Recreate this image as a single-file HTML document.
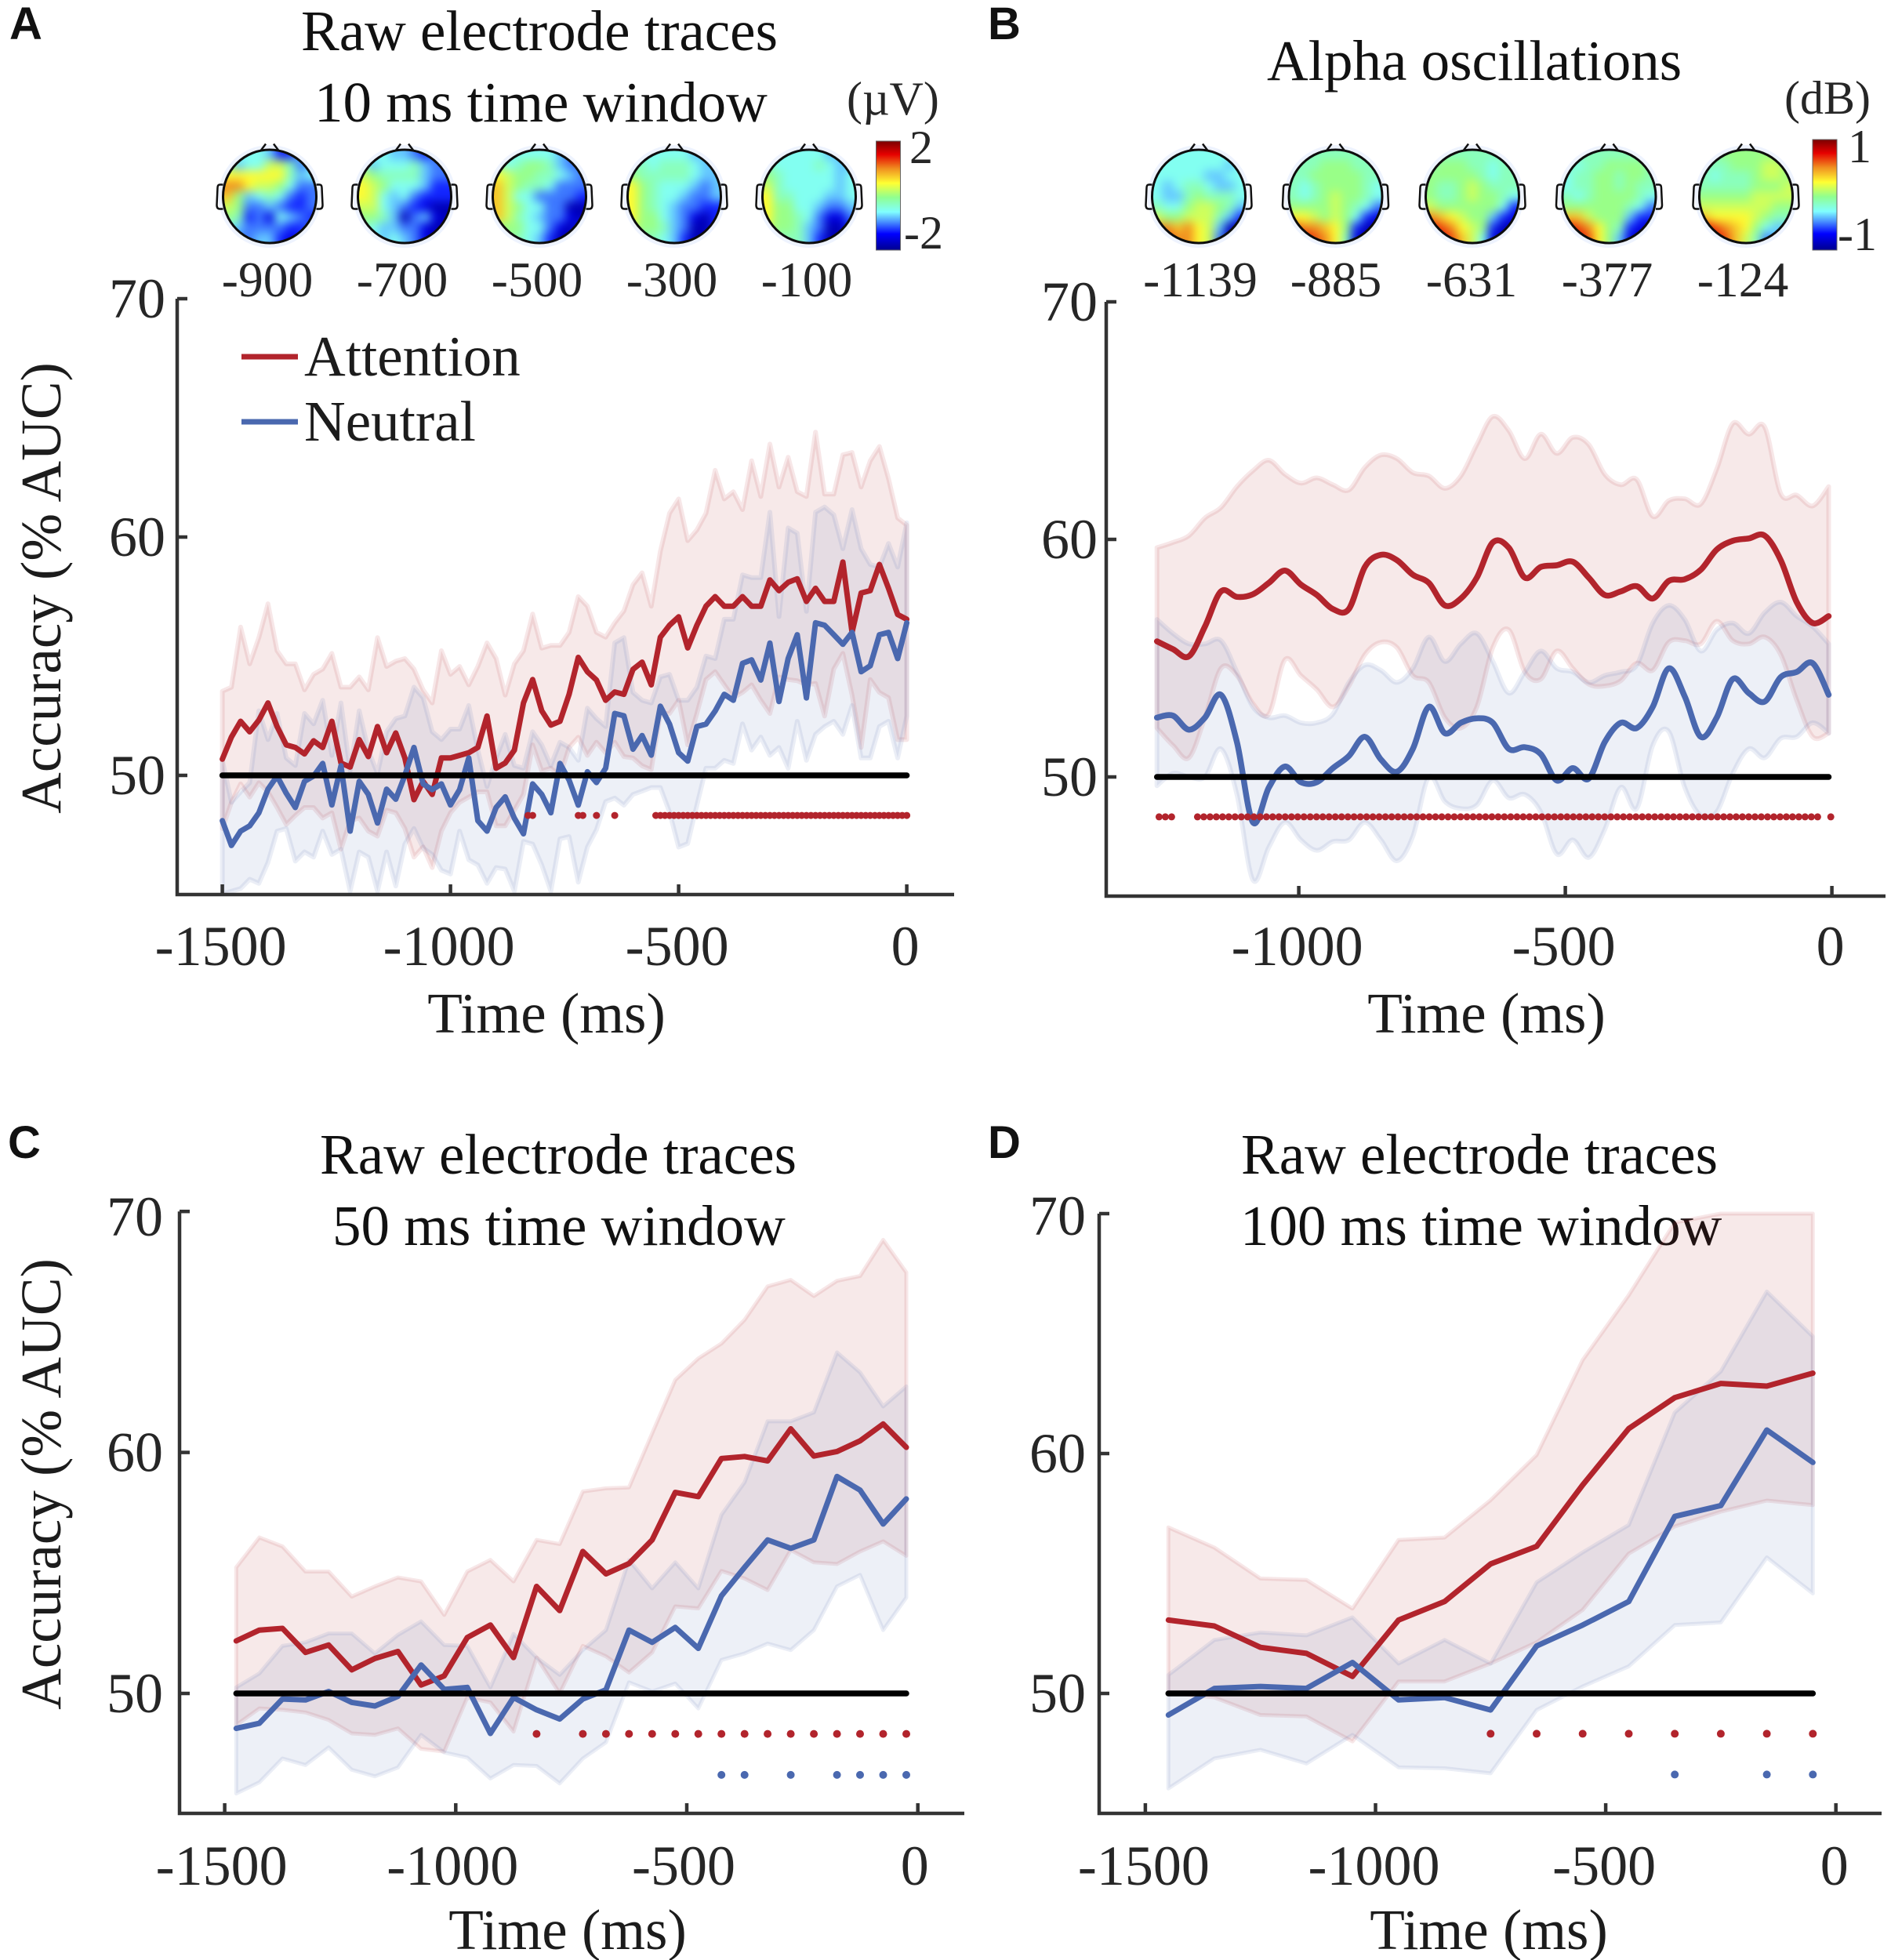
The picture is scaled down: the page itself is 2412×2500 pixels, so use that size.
<!DOCTYPE html>
<html lang="en">
<head>
<meta charset="utf-8">
<title>Decoding accuracy panels</title>
<style>
html,body{margin:0;padding:0;background:#fff}
svg{display:block}
text{font-family:"Liberation Serif","Times New Roman",serif;fill:#1c1c1c}
.letter{font-family:"Liberation Sans",Arial,sans-serif;font-weight:700;font-size:58px;fill:#111}
.title{font-size:73px;fill:#111}
.axt{font-size:73px;fill:#1c1c1c}
.tick{font-size:72px;fill:#262626}
.tl{font-size:63.5px;fill:#262626}
.unit{font-size:60px;fill:#262626}
</style>
</head>
<body>
<svg id="fig" xmlns="http://www.w3.org/2000/svg" width="2412" height="2500" viewBox="0 0 2412 2500">
<defs>
<linearGradient id="jetGrad" x1="0" y1="1" x2="0" y2="0">
<stop offset="0" stop-color="#00008f"/><stop offset=".148" stop-color="#0000ff"/><stop offset=".268" stop-color="#4f9cff"/><stop offset=".35" stop-color="#80ffff"/><stop offset=".483" stop-color="#90ff90"/><stop offset=".615" stop-color="#ffff33"/><stop offset=".746" stop-color="#f09020"/><stop offset=".878" stop-color="#e60000"/><stop offset="1" stop-color="#7a0000"/>
</linearGradient>
<filter id="topoBlur" filterUnits="objectBoundingBox" x="-0.2" y="-0.2" width="1.4" height="1.4" color-interpolation-filters="sRGB"><feGaussianBlur stdDeviation="6"/></filter>
</defs>

<text class="letter" x="12" y="50">A</text>
<text class="letter" x="1260" y="50">B</text>
<text class="letter" x="10" y="1477">C</text>
<text class="letter" x="1260" y="1477">D</text>

<text class="title" x="384" y="64">Raw electrode traces</text>
<text class="title" x="401" y="155">10 ms time window</text>
<text class="title" x="1616" y="102">Alpha oscillations</text>
<text class="title" x="408" y="1497">Raw electrode traces</text>
<text class="title" x="424" y="1588">50 ms time window</text>
<text class="title" x="1583" y="1497">Raw electrode traces</text>
<text class="title" x="1582" y="1588">100 ms time window</text>

<text class="unit" x="1080" y="146">(µV)</text>
<text class="unit" x="2276" y="145">(dB)</text>
<rect x="1117.5" y="180" width="31" height="139" fill="url(#jetGrad)" stroke="#666" stroke-width="1"/>
<rect x="2312" y="178" width="31" height="141" fill="url(#jetGrad)" stroke="#666" stroke-width="1"/>
<text class="unit" x="1160" y="208">2</text>
<text class="unit" x="1153" y="317">-2</text>
<text class="unit" x="2357" y="207">1</text>
<text class="unit" x="2344" y="319">-1</text>

<text class="axt" x="697" y="1317" text-anchor="middle">Time (ms)</text>
<text class="axt" x="1896" y="1317" text-anchor="middle">Time (ms)</text>
<text class="axt" x="724" y="2486" text-anchor="middle">Time (ms)</text>
<text class="axt" x="1899" y="2486" text-anchor="middle">Time (ms)</text>
<text class="axt" transform="translate(77,750) rotate(-90)" text-anchor="middle">Accuracy (% AUC)</text>
<text class="axt" transform="translate(77,1893) rotate(-90)" text-anchor="middle">Accuracy (% AUC)</text>

<g id="panels"></g>

<line x1="308" x2="380" y1="455" y2="455" stroke="#b2242c" stroke-width="7"/>
<text class="axt" x="388" y="479">Attention</text>
<line x1="308" x2="380" y1="538" y2="538" stroke="#4a68af" stroke-width="7"/>
<text class="axt" x="388" y="562">Neutral</text>
</svg>

<script>
/* ---------- Panel A (10 ms window) ---------- */
const timesA = [-1500,-1480,-1460,-1440,-1420,-1400,-1380,-1360,-1340,-1320,-1300,-1280,-1260,-1240,-1220,-1200,-1180,-1160,-1140,-1120,-1100,-1080,-1060,-1040,-1020,-1000,-980,-960,-940,-920,-900,-880,-860,-840,-820,-800,-780,-760,-740,-720,-700,-680,-660,-640,-620,-600,-580,-560,-540,-520,-500,-480,-460,-440,-420,-400,-380,-360,-340,-320,-300,-280,-260,-240,-220,-200,-180,-160,-140,-120,-100,-80,-60,-40,-20,0];
const attentionA = [50.68,51.61,52.27,51.83,52.32,53.04,52.05,51.28,51.17,50.9,51.45,51.17,52.27,50.52,50.35,51.5,50.79,52.05,50.95,51.78,50.73,48.98,49.75,49.2,50.73,50.73,50.84,50.95,51.17,52.49,50.3,50.52,51.06,53.04,54.02,52.71,52.11,52.27,53.4,54.95,54.35,54,53.15,53.5,53.4,54.45,54.75,53.8,55.8,56.3,56.65,55.35,56.3,57.1,57.5,57.1,57.1,57.5,57.1,57.1,58.2,57.75,58.1,58.25,57.3,57.85,57.3,57.3,58.95,56,57.65,57.75,58.85,57.85,56.75,56.55];
const neutralA = [48.1,47.06,47.66,47.88,48.43,49.42,49.97,49.25,48.65,49.75,49.97,50.5,48.76,50.4,47.66,49.75,49.2,48,49.42,49,50,51.17,49.64,49.4,49.64,48.76,49.4,50.73,48.1,47.66,48.65,49.1,48.2,47.55,49.64,49.2,48.43,50.5,49.8,48.75,50.15,49.7,50.3,52.6,52.5,51.1,51.67,50.85,52.9,52.15,50.95,50.6,52.05,52.15,52.7,53.4,53.15,54.7,54.85,54,55.55,53.1,54.9,55.9,53.25,56.4,56.3,55.9,55.5,56,54.35,54.6,55.9,56,54.9,56.4];
const attentionUpperA = [53.53,53.7,56.22,54.68,55.78,57.2,55.23,54.68,54.68,53.59,54.24,54.46,55.12,53.7,53.7,54.13,53.59,55.78,54.57,54.79,54.9,54.46,53.59,53.04,55.23,54.24,54.57,53.8,54.57,55.56,54.9,53.37,54.68,55.23,56.77,55.34,55.45,55.45,56,57.5,57.1,56,55.8,56.4,56.9,58,58.5,57.1,59.4,61,61.6,59.85,60.3,61,62.8,61.6,61.9,61.15,63.2,61.7,63.9,62.1,63.35,61.9,61.7,64.4,61.8,61.8,63.45,63.55,62.1,63.2,63.8,62.45,60.8,60.5];
const attentionLowerA = [47.77,48.87,49.64,49.09,49.69,49.31,48.65,47.94,48.32,48.65,48.65,48.21,48.43,46.9,48.1,48.21,47.66,47.45,48.54,48.43,47.77,46.57,47,46.13,47.66,48.43,48.87,49.09,49.31,49.31,47.88,47.88,48.54,49.2,51.28,50.19,50.3,49.97,51.17,51.6,50.84,51.39,50.95,51.39,50.79,50.73,50.4,50.24,52.6,52.6,53.15,51.28,52.6,54.02,54.35,53.8,53.26,53.48,53.8,53.15,52.6,54.13,54.02,53.97,53.8,53.86,52.49,54.46,55.12,53.37,51.17,54.02,53.48,53.26,51.5,51.5];
const neutralUpperA = [50.63,48.87,49.31,49.69,52.71,51.5,52.6,50.73,50.41,52.6,52.16,53.15,50.84,53.04,50.19,52.71,51.06,50.08,51.83,52.38,52.49,53.7,53.26,51.83,51.5,51.94,51.94,52.93,51.06,49.53,50.73,51.72,50.41,50.3,51.83,51.28,50.41,51.39,51.17,50.63,52.82,52.38,52.05,55.56,55.78,53.48,53.15,53.04,54.13,54.24,53.15,53.15,53.7,55.01,54.9,56.55,56.55,58.41,58.3,58.3,61.04,56.66,60.38,60.16,56.88,61.04,61.26,60.93,59.51,61.15,59.51,58.85,58.74,59.73,58.74,60.6];
const neutralLowerA = [45.03,45.14,45.25,45.64,45.47,46.35,47.66,47.77,46.4,46.79,46.57,47.66,46.68,46.9,45.14,46.79,46.57,45.14,46.79,45.36,47.12,47.77,46.95,46.68,46.02,45.86,47.66,46.46,46.24,45.47,46.13,46.07,45.14,47.23,47.12,46.24,45.14,47.34,47.43,45.52,46.99,47.72,48.9,49.05,48.75,49.2,49.34,49.49,49.49,48.46,46.99,47.14,48.75,50.3,50.3,50.63,50.5,52.16,51.06,51.61,50.84,51.17,50.3,52.27,50.63,51.72,52.05,52.27,51.72,52.93,50.73,50.73,52.05,52.27,50.73,52.49];
const sigAttentionA = [[-830,-820],[-720,-710],[-680,-680],[-640,-640],[-550,-520],[-510,-480],[-470,-400],[-390,-110],[-100,0]];

/* ---------- Panel B (alpha) ---------- */
const timesB = [-1266,-1236,-1206,-1176,-1146,-1116,-1086,-1056,-1026,-996,-966,-936,-906,-876,-846,-816,-786,-756,-726,-696,-666,-636,-606,-576,-546,-516,-486,-456,-426,-396,-366,-336,-306,-276,-246,-216,-186,-156,-126,-96,-66,-36,-6];
const attentionB = [55.71,55.38,55.08,56.33,57.81,57.58,57.69,58.17,58.69,58.1,57.66,57.07,57.07,58.84,59.35,59.13,58.51,58.17,57.22,57.51,58.39,59.87,59.65,58.39,58.84,58.91,59.06,58.39,57.66,57.81,58.03,57.51,58.25,58.32,58.72,59.57,59.94,60.04,60.16,59.13,57.36,56.48,56.77];
const neutralB = [52.5,52.58,51.99,52.5,53.46,51.47,48.09,49.56,50.44,49.78,49.78,50.37,50.88,51.69,50.74,50.22,51.18,52.95,51.84,52.28,52.47,52.28,51.18,51.25,50.96,49.85,50.37,49.93,51.47,52.28,52.06,52.95,54.57,53.39,51.69,52.5,54.12,53.53,53.17,54.2,54.42,54.79,53.46];
const attentionUpperB = [59.65,59.87,60.16,60.9,61.34,62.22,62.89,63.33,62.74,62.37,62.59,62.3,62.08,63.03,63.55,63.4,62.81,62.67,62.15,62.67,63.99,65.17,64.58,63.4,64.43,63.62,64.29,63.99,62.74,62.3,62.52,60.97,61.63,61.71,61.49,62.96,64.87,64.43,64.73,61.93,61.86,61.41,62.22];
const attentionLowerB = [52.06,51.33,50.81,52.5,54.57,54.27,53.09,52.65,54.93,54.27,53.68,52.95,53.83,55.15,55.67,55.45,54.27,53.98,52.5,52.06,52.95,55.45,56.19,54.42,54.12,55.3,54.57,53.9,53.83,54.05,54.79,54.49,55.67,55.74,55.6,56.55,55.74,55.6,55.89,55.15,53.24,51.69,51.84];
const neutralUpperB = [56.63,56.04,55.6,55.6,55.74,54.42,52.95,52.5,52.58,52.28,52.28,52.65,53.98,54.71,54.49,53.98,54.57,55.89,54.86,55.6,56.04,54.86,53.53,54.42,55.3,54.57,54.42,53.98,54.27,54.42,54.71,56.48,57.22,56.63,55.3,56.19,56.48,56.04,56.92,57.36,56.77,56.33,55.6];
const neutralLowerB = [49.63,50.15,50,50,51.18,49.26,45.66,47.05,48.09,47.35,46.91,47.28,47.35,48.09,47.35,46.47,47.5,50,48.97,48.67,48.82,49.85,49.12,49.26,48.53,46.76,47.35,46.61,47.79,49.56,48.67,51.33,51.91,49.56,48.38,48.53,50.15,51.18,50.81,51.62,51.69,52.28,51.84];
const sigAttentionB = [[-1262,-1238],[-1190,-21],[-2,-2]];

/* ---------- Panel C (50 ms window) ---------- */
const timesC = [-1475,-1425,-1375,-1325,-1275,-1225,-1175,-1125,-1075,-1025,-975,-925,-875,-825,-775,-725,-675,-625,-575,-525,-475,-425,-375,-325,-275,-225,-175,-125,-75,-25];
const attentionC = [52.18,52.63,52.7,51.7,52.01,50.98,51.45,51.74,50.35,50.73,52.32,52.84,51.49,54.44,53.44,55.89,54.96,55.39,56.37,58.34,58.17,59.75,59.83,59.65,60.98,59.85,60.04,60.48,61.18,60.21];
const neutralC = [48.55,48.76,49.77,49.73,50.08,49.63,49.48,49.88,51.18,50.17,50.25,48.34,49.83,49.32,48.94,49.77,50.15,52.63,52.12,52.74,51.87,54.05,55.23,56.37,56.02,56.37,59,58.44,57.03,58.07];
const attentionUpperC = [55.23,56.47,56.1,55.06,55.06,54.02,54.44,54.81,54.65,53.26,55.06,55.54,54.65,56.37,56.2,58.38,58.51,58.55,60.79,63.01,63.9,64.52,65.5,66.89,67.16,66.49,67.12,67.32,68.82,67.47];
const attentionLowerC = [48.69,49.38,49.32,49.21,48.9,48.34,48.28,48.55,47.7,47.59,49.83,49.63,48.42,51.49,50,51.97,51.54,50.87,51.7,53.61,53.53,55.08,54.77,54.29,55.95,55.44,55.37,55.89,56.31,55.71];
const neutralUpperC = [50.25,50.83,51.97,52.12,52.49,52.49,51.66,52.43,52.99,52.01,51.97,50.25,52.47,51.49,50.77,51.8,52.63,55.54,54.36,55.44,54.36,57.41,58.76,61.29,61.29,61.66,64.15,63.32,61.91,62.74];
const neutralLowerC = [45.85,46.31,47.3,47.03,47.76,46.83,46.56,46.93,48.28,47.55,47.34,46.47,47.03,46.99,46.27,47.3,47.97,50.46,50.08,50.41,49.38,51.39,51.66,52.07,51.8,52.63,54.44,54.92,52.63,53.98];
const sigAttentionC = [[-825,-825],[-725,-725],[-675,-675],[-625,-625],[-575,-575],[-525,-525],[-475,-475],[-425,-425],[-375,-375],[-325,-325],[-275,-275],[-225,-225],[-175,-175],[-125,-125],[-75,-75],[-25,-25]];
const sigNeutralC = [[-425,-425],[-375,-375],[-275,-275],[-175,-175],[-125,-125],[-75,-75],[-25,-25]];

/* ---------- Panel D (100 ms window) ---------- */
const timesD = [-1450,-1350,-1250,-1150,-1050,-950,-850,-750,-650,-550,-450,-350,-250,-150,-50];
const attentionD = [53.06,52.81,51.92,51.67,50.71,53.06,53.83,55.4,56.13,58.69,61.04,62.33,62.92,62.81,63.35];
const neutralD = [49.1,50.21,50.29,50.21,51.29,49.73,49.83,49.31,51.98,52.85,53.83,57.38,57.83,60.98,59.63];
const attentionUpperD = [56.92,56.08,54.79,54.73,53.54,56.4,56.5,58.06,59.94,63.9,66.6,69.63,70,70,70];
const attentionLowerD = [50.04,49.83,49.1,49.04,48,50.5,50.5,51.25,52.13,53.48,55.83,56.96,57.58,58.04,57.85];
const neutralUpperD = [50.77,52.23,52.54,52.42,53.17,51.25,52.23,51.25,54.63,55.88,57.02,61.71,63.42,66.75,64.88];
const neutralLowerD = [46.04,47.29,47.65,47.08,48.27,46.92,46.88,46.67,49.31,50.29,51.13,52.85,52.96,55.67,54.17];
const sigAttentionD = [[-750,-750],[-650,-650],[-550,-550],[-450,-450],[-350,-350],[-250,-250],[-150,-150],[-50,-50]];
const sigNeutralD = [[-350,-350],[-150,-150],[-50,-50]];

/* ---------- Shared ticks ---------- */
const yTicks = [50,60,70];
const xTicksFull = [-1500,-1000,-500,0];
const xTicksB = [-1000,-500,0];

/* ---------- Topographic maps: hex digit = position on colour scale ---------- */
const topoLabelsA = ['-900','-700','-500','-300','-100'];
const topoLabelsB = ['-1139','-885','-631','-377','-124'];
const topoA900 = ['455542244','745588634','999999645','bb9887533','a74565323','873343223','762315432','543333223','433442123'];
const topoA700 = ['455443233','645556433','876666433','987555422','985453222','885432100','776403410','654433100','554543102'];
const topoA500 = ['555555433','756776433','987766543','a87665333','a85533332','a87553300','a86543310','777553102','776542002'];
const topoA300 = ['555555444','665666544','766666544','976555434','976554334','976543322','977543102','877643002','766542002'];
const topoA100 = ['555555445','655556544','765555545','865555545','966555445','977554334','977653113','877643002','766642002'];
const topoB1139 = ['555555555','555555545','555554455','545665445','544676665','655788764','877888642','bbab98400','dcbb98301'];
const topoB885 = ['666666666','666777666','667777766','656777765','656787765','777787653','998787521','cbba97200','ddcb96100'];
const topoB631 = ['666666666','677766566','777776566','766787666','766787765','877777752','ba9877421','dcb987200','edca85100'];
const topoB377 = ['666666666','656677776','566776776','566776766','656777765','777777653','aa8777422','dcb976210','edc974101'];
const topoB124 = ['667777777','666777887','656667887','666667778','777778888','888888877','a99998766','dcba97544','edca86345'];
const topoMapsA = [topoA900,topoA700,topoA500,topoA300,topoA100];
const topoMapsB = [topoB1139,topoB885,topoB631,topoB377,topoB124];

/* ---------- Colour scale ---------- */
const jetStops = [[0,0,0,143],[.148,0,0,255],[.268,79,156,255],[.35,128,255,255],[.483,144,255,144],[.615,255,255,51],[.746,240,144,32],[.878,230,0,0],[1,122,0,0]];
function jet(f){
  for(let i=1;i<jetStops.length;i++){
    if(f<=jetStops[i][0]){
      const a=jetStops[i-1],b=jetStops[i],k=(f-a[0])/(b[0]-a[0]);
      return 'rgb('+[1,2,3].map(j=>Math.round(a[j]+(b[j]-a[j])*k)).join(',')+')';
    }
  }
  return 'rgb(122,0,0)';
}

const NS='http://www.w3.org/2000/svg';
const root=document.getElementById('panels');
function mk(tag,attrs,parent){
  const e=document.createElementNS(NS,tag);
  for(const k in attrs)e.setAttribute(k,attrs[k]);
  (parent||root).appendChild(e);
  return e;
}

/* ---------- Topomap drawing ---------- */
let clipId=0;
function drawHead(cx,cy,rows,name){
  const r=59.5;
  const g=mk('g',{});
  
  
  const halo=mk('circle',{cx:cx,cy:cy,r:r+6,fill:'#eef3fe'},g);
  
  
  const id='headClip'+(clipId++);
  const cp=mk('clipPath',{id:id},g);
  mk('circle',{cx:cx,cy:cy,r:r},cp);
  const clipG=mk('g',{'clip-path':'url(#'+id+')'},g);
  const blurG=mk('g',{filter:'url(#topoBlur)'},clipG);
  const nR=rows.length,nC=rows[0].length,cell=2*r/nC,pad=24;
  rows.forEach((row,ri)=>{
    for(let ci=0;ci<nC;ci++){
      const f=(parseInt(row[ci],16)+.8)/15.8;
      const x0=cx-r+ci*cell-(ci===0?pad:0);
      const x1=cx-r+(ci+1)*cell+(ci===nC-1?pad:0)+.5;
      const y0=cy-r+ri*cell-(ri===0?pad:0);
      const y1=cy-r+(ri+1)*cell+(ri===nR-1?pad:0)+.5;
      const c=mk('rect',{x:x0,y:y0,width:x1-x0,height:y1-y0,fill:jet(f)},blurG);
      
      
    }
  });
  const outline=mk('circle',{cx:cx,cy:cy,r:r,fill:'none',stroke:'#0d0d0d','stroke-width':3},g);
  
  
  [-1,1].forEach(s=>{
    const ex=cx+s*r;
    const ear=mk('path',{d:'M'+ex+' '+(cy-15)+' h'+(s*4)+' q'+(s*3)+' 0 '+(s*3)+' 4 l'+(s*1)+' 22 q0 5 '+(-s*4)+' 5 h'+(-s*4),fill:'none',stroke:'#111','stroke-width':2.5},g);
    
    
    const nose=mk('line',{x1:cx+s*11,y1:cy-59,x2:cx+s*5,y2:cy-67,stroke:'#111','stroke-width':2.5},g);
    
    
  });
}
function drawTopoRow(maps,labels,startX,step,labelStart,labelStep,prefix){
  maps.forEach((rows,i)=>{
    const cx=startX+i*step;
    drawHead(cx,250.5,rows,prefix+'-topomap-'+labels[i]);
    const t=mk('text',{class:'tl',x:labelStart+i*labelStep,y:378,'text-anchor':'middle'});
    t.textContent=labels[i];
    
    
  });
}
drawTopoRow(topoMapsA,topoLabelsA,344,172,341,172,'panel-a');
drawTopoRow(topoMapsB,topoLabelsB,1529,174.5,1531,173,'panel-b');

/* ---------- Panel drawing ---------- */
function curve(p,smooth){
  /* p: list of [x,y]; returns path segment data after the first point */
  let d='';
  for(let i=1;i<p.length;i++){
    if(!smooth){d+=' L'+p[i][0].toFixed(1)+' '+p[i][1].toFixed(1);continue;}
    const a=p[Math.max(i-2,0)],b=p[i-1],c=p[i],e=p[Math.min(i+1,p.length-1)];
    d+=' C'+(b[0]+(c[0]-a[0])/6).toFixed(1)+' '+(b[1]+(c[1]-a[1])/6).toFixed(1)+' '+(c[0]-(e[0]-b[0])/6).toFixed(1)+' '+(c[1]-(e[1]-b[1])/6).toFixed(1)+' '+c[0].toFixed(1)+' '+c[1].toFixed(1);
  }
  return d;
}
function drawPanel(p){
  const x=t=>p.x0+p.pxPerMs*t;
  const y=v=>p.y50-p.pxPerUnit*(v-50);
  const pts=(ts,vs)=>ts.map((t,i)=>[x(t),y(vs[i])]);
  const G=mk('g',{});
  
  
  function band(upper,lower,col,nm){
    const u=pts(p.times,upper),l=pts(p.times,lower).reverse();
    const d='M'+u[0][0].toFixed(1)+' '+u[0][1].toFixed(1)+curve(u,p.smooth)+' L'+l[0][0].toFixed(1)+' '+l[0][1].toFixed(1)+curve(l,p.smooth)+' Z';
    const b=mk('path',{d:d,fill:col,'fill-opacity':.1,stroke:col,'stroke-opacity':.11,'stroke-width':p.bandStroke,'stroke-linejoin':'round'},G);
    
    
  }
  band(p.attUp,p.attLo,'#b2242c',p.id+'-attention-error-band');
  band(p.neuUp,p.neuLo,'#4a68af',p.id+'-neutral-error-band');
  function line(vs,col,nm){
    const q=pts(p.times,vs);
    const l=mk('path',{d:'M'+q[0][0].toFixed(1)+' '+q[0][1].toFixed(1)+curve(q,p.smooth),fill:'none',stroke:col,'stroke-width':p.lw,'stroke-linejoin':'round','stroke-linecap':'round'},G);
    
    
  }
  line(p.att,'#b2242c',p.id+'-attention-line');
  line(p.neu,'#4a68af',p.id+'-neutral-line');
  const ch=mk('line',{x1:x(p.times[0]),x2:x(p.times[p.times.length-1]),y1:y(50),y2:y(50),stroke:'#000','stroke-width':7.5,'stroke-linecap':'round'},G);
  
  
  function dots(ranges,v,col,nm){
    ranges.forEach(r=>{
      for(let t=r[0];t<=r[1]+.01;t+=p.sigStep){
        const d=mk('circle',{cx:x(t).toFixed(1),cy:y(v),r:p.dotR,fill:col},G);
        
        
      }
    });
  }
  dots(p.sigAtt,48.32,'#b2242c',p.id+'-attention-significance-dot');
  if(p.sigNeu)dots(p.sigNeu,46.62,'#4a68af',p.id+'-neutral-significance-dot');
  const ax=mk('path',{d:'M'+p.axisX+' '+y(70)+' V'+p.axisY+' H'+p.axisEnd,fill:'none',stroke:'#333','stroke-width':4.5},G);
  
  
  yTicks.forEach(v=>{
    const k=mk('line',{x1:p.axisX,x2:p.axisX+13,y1:y(v),y2:y(v),stroke:'#333','stroke-width':4.5},G);
    
    
    const l=mk('text',{class:'tick',x:p.yLabelX,y:y(v)+24+(v===70?p.topShift:0),'text-anchor':'end'},G);
    l.textContent=v;
    
    
  });
  p.xTicks.forEach(t=>{
    const k=mk('line',{x1:x(t),x2:x(t),y1:p.axisY,y2:p.axisY-13,stroke:'#333','stroke-width':4.5},G);
    
    
    const l=mk('text',{class:'tick',x:x(t)-p.xLabelShift,y:p.xLabelY,'text-anchor':'middle'},G);
    l.textContent=t;
    
    
  });
}

drawPanel({id:'panel-a',x0:1156.6,pxPerMs:.582,y50:989,pxPerUnit:30.4,axisX:226,axisY:1141,axisEnd:1217,yLabelX:211,xLabelY:1231,xLabelShift:2,topShift:0,
  times:timesA,att:attentionA,neu:neutralA,attUp:attentionUpperA,attLo:attentionLowerA,neuUp:neutralUpperA,neuLo:neutralLowerA,
  sigAtt:sigAttentionA,sigStep:10,dotR:4.5,lw:7,bandStroke:6,xTicks:xTicksFull});
drawPanel({id:'panel-b',x0:2336.6,pxPerMs:.68,y50:991,pxPerUnit:30.3,axisX:1411,axisY:1143,axisEnd:2405,yLabelX:1400,xLabelY:1231,xLabelShift:2,topShift:0,smooth:true,
  times:timesB,att:attentionB,neu:neutralB,attUp:attentionUpperB,attLo:attentionLowerB,neuUp:neutralUpperB,neuLo:neutralLowerB,
  sigAtt:sigAttentionB,sigStep:11.75,dotR:4.5,lw:7.5,bandStroke:6,xTicks:xTicksB});
drawPanel({id:'panel-c',x0:1170.7,pxPerMs:.5894,y50:2160,pxPerUnit:30.74,axisX:229,axisY:2313,axisEnd:1230,yLabelX:208,xLabelY:2404,xLabelShift:4,topShift:7,
  times:timesC,att:attentionC,neu:neutralC,attUp:attentionUpperC,attLo:attentionLowerC,neuUp:neutralUpperC,neuLo:neutralLowerC,
  sigAtt:sigAttentionC,sigNeu:sigNeutralC,sigStep:10,dotR:5,lw:7,bandStroke:5,xTicks:xTicksFull});
drawPanel({id:'panel-d',x0:2341.7,pxPerMs:.5872,y50:2160,pxPerUnit:30.6,axisX:1402,axisY:2313,axisEnd:2400,yLabelX:1385,xLabelY:2404,xLabelShift:2,topShift:3,
  times:timesD,att:attentionD,neu:neutralD,attUp:attentionUpperD,attLo:attentionLowerD,neuUp:neutralUpperD,neuLo:neutralLowerD,
  sigAtt:sigAttentionD,sigNeu:sigNeutralD,sigStep:10,dotR:5,lw:7,bandStroke:5,xTicks:xTicksFull});
</script>
</body>
</html>
